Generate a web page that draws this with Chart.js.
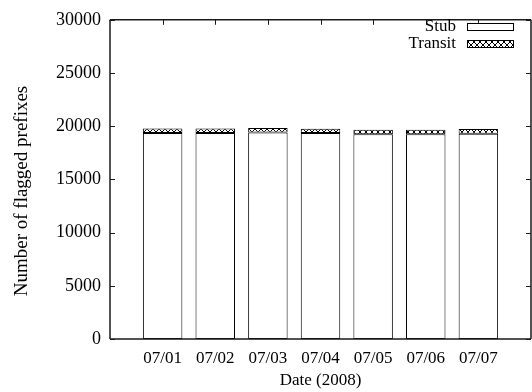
<!DOCTYPE html>
<html>
<head>
<meta charset="utf-8">
<script src="https://cdn.jsdelivr.net/npm/chart.js@4/dist/chart.umd.min.js"></script>
<style>
  html, body { margin: 0; padding: 0; overflow: hidden; background: #fff; }
  canvas { display: block; }
</style>
</head>
<body>
<canvas id="c" width="540" height="392"></canvas>
<script>
// Daily counts of flagged prefixes, July 2008
const categories = ['07/01', '07/02', '07/03', '07/04', '07/05', '07/06', '07/07'];
const stubValues = [19350, 19350, 19400, 19350, 19250, 19250, 19300];
const transitValues = [430, 430, 420, 420, 420, 420, 430];
const yTicks = [0, 5000, 10000, 15000, 20000, 25000, 30000];
const yTitle = 'Number of flagged prefixes';

const FONT = 'Liberation Serif';

// crosshatch fill used for the Transit segments
function makeHatch() {
  const t = document.createElement('canvas');
  t.width = 6; t.height = 6;
  const g = t.getContext('2d');
  g.fillStyle = '#fff';
  g.fillRect(0, 0, 6, 6);
  g.strokeStyle = '#000';
  g.lineWidth = 1;
  g.beginPath();
  g.moveTo(0, 0); g.lineTo(6, 6);
  g.moveTo(6, 0); g.lineTo(0, 6);
  g.stroke();
  return document.getElementById('c').getContext('2d').createPattern(t, 'repeat');
}
const hatch = makeHatch();

// empty slots at both ends leave a gap before the first and after the last bar
const axisLabels = [''].concat(categories, ['']);
const pad = arr => [null].concat(arr, [null]);

// plot frame, inward ticks, the y title and the key in the upper right corner
const framePlugin = {
  id: 'frame',
  afterDatasetsDraw(chart) {
    const ctx = chart.ctx;
    const a = chart.chartArea;
    const xs = chart.scales.x, ys = chart.scales.y;
    ctx.save();
    ctx.strokeStyle = '#1a1a1a';
    ctx.lineWidth = 1.5;
    ctx.beginPath();
    ctx.moveTo(a.left, a.top); ctx.lineTo(a.right, a.top);
    ctx.moveTo(a.left, a.top); ctx.lineTo(a.left, a.bottom);
    ctx.moveTo(a.left, a.bottom); ctx.lineTo(a.right, a.bottom);
    ctx.moveTo(a.right, a.top); ctx.lineTo(a.right, a.bottom);
    ctx.stroke();
    ctx.lineWidth = 1;
    ctx.beginPath();
    yTicks.forEach(v => {
      const y = Math.round(ys.getPixelForValue(v)) + 0.5;
      ctx.moveTo(a.left, y); ctx.lineTo(a.left + 5, y);
      ctx.moveTo(a.right, y); ctx.lineTo(a.right - 5, y);
    });
    categories.forEach((c, i) => {
      const x = Math.round(xs.getPixelForValue(i + 1)) + 0.5;
      ctx.moveTo(x, a.top); ctx.lineTo(x, a.top + 5);
    });
    ctx.stroke();

    // y axis title
    ctx.save();
    ctx.translate(22, 191);
    ctx.rotate(-Math.PI / 2);
    ctx.font = '19px "' + FONT + '"';
    ctx.fillStyle = '#000';
    ctx.textAlign = 'center';
    ctx.textBaseline = 'middle';
    ctx.fillText(yTitle, 0, 0);
    ctx.restore();

    // key
    ctx.font = '17px "' + FONT + '"';
    ctx.textAlign = 'right';
    ctx.textBaseline = 'middle';
    const keyX = 467, keyW = 46, keyH = 7;
    const rows = [{ text: 'Stub', y: 23, fill: '#fff' }, { text: 'Transit', y: 40, fill: hatch }];
    rows.forEach(r => {
      ctx.fillStyle = '#000';
      ctx.fillText(r.text, 456, r.y + 4);
      ctx.fillStyle = r.fill;
      ctx.fillRect(keyX, r.y, keyW, keyH);
      ctx.strokeStyle = '#000';
      ctx.lineWidth = 1;
      ctx.strokeRect(keyX + 0.5, r.y + 0.5, keyW, keyH);
    });
    ctx.restore();
  }
};

new Chart(document.getElementById('c'), {
  type: 'bar',
  data: {
    labels: axisLabels,
    datasets: [
      {
        label: 'Stub',
        data: pad(stubValues),
        backgroundColor: '#fff',
        borderColor: '#000',
        borderWidth: 1,
        borderSkipped: false,
        stack: 's'
      },
      {
        label: 'Transit',
        data: pad(transitValues),
        backgroundColor: hatch,
        borderColor: '#000',
        borderWidth: 1,
        borderSkipped: false,
        stack: 's'
      }
    ]
  },
  options: {
    responsive: false,
    animation: false,
    events: [],
    layout: { padding: { top: 14, right: 6, bottom: 0, left: 0 } },
    datasets: { bar: { categoryPercentage: 1, barPercentage: 0.75 } },
    plugins: { legend: { display: false }, tooltip: { enabled: false } },
    scales: {
      x: {
        stacked: true,
        offset: false,
        grid: { display: false, drawTicks: false },
        border: { display: false },
        ticks: {
          color: '#000',
          font: { family: FONT, size: 17 },
          padding: 9,
          maxRotation: 0,
          autoSkip: false
        },
        title: {
          display: true,
          text: 'Date (2008)',
          color: '#000',
          font: { family: FONT, size: 17 },
          padding: { top: 0, bottom: 1 }
        },
        afterFit(scale) { scale.height = 53; }
      },
      y: {
        stacked: true,
        min: 0,
        max: 30000,
        grid: { display: false, drawTicks: false },
        border: { display: false },
        afterBuildTicks(scale) { scale.ticks = yTicks.map(v => ({ value: v })); },
        ticks: {
          color: '#000',
          font: { family: FONT, size: 18 },
          padding: 9,
          callback: v => String(v)
        },
        title: { display: false },
        afterFit(scale) { scale.width = 110; }
      }
    }
  },
  plugins: [framePlugin]
});
</script>
</body>
</html>
